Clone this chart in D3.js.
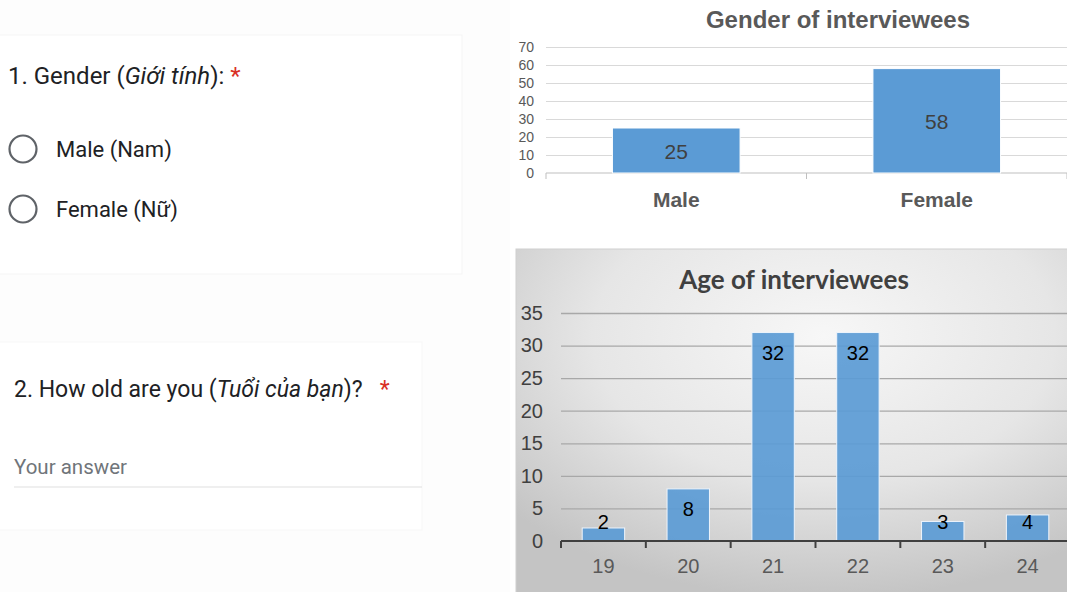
<!DOCTYPE html>
<html lang="en">
  <head>
    <meta charset="UTF-8" />
    <title>Gender and age of interviewees</title>
    <script src="https://d3js.org/d3.v7.min.js"></script>
    <style>
      body { margin: 0; background: #fff; }
      .form-text { font-family: Roboto, "Noto Sans", sans-serif; fill: #202124; }
      .axis-label { font-family: "Liberation Sans", Arial, sans-serif; }
    </style>
  </head>
  <body>
    <svg id="page" width="1067" height="592"></svg>
    <script>
      // chart data
      const genderCategories = ["Male", "Female"];
      const genderCounts = [25, 58];
      const genderTicks = [0, 10, 20, 30, 40, 50, 60, 70];

      const ageCategories = ["19", "20", "21", "22", "23", "24"];
      const ageCounts = [2, 8, 32, 32, 3, 4];
      const ageTicks = [0, 5, 10, 15, 20, 25, 30, 35];

      // form labels
      const genderOptions = ["Male (Nam)", "Female (Nữ)"];

      const svg = d3.select("#page");
      const defs = svg.append("defs");

      // ---------- left side: form screenshot ----------
      svg.append("rect").attr("x", 0).attr("y", 0).attr("width", 510).attr("height", 592).attr("fill", "#fdfdfd");
      svg.append("rect").attr("x", -1).attr("y", 35).attr("width", 463).attr("height", 239)
        .attr("fill", "#fff").attr("stroke", "#f5f5f5");
      svg.append("rect").attr("x", -1).attr("y", 342).attr("width", 423).attr("height", 188)
        .attr("fill", "#fff").attr("stroke", "#f7f7f7");

      const q1 = svg.append("text").attr("class", "form-text").attr("x", 8).attr("y", 84).style("font-size", "24px");
      q1.append("tspan").text("1. Gender (");
      q1.append("tspan").style("font-style", "italic").text("Giới tính");
      q1.append("tspan").text("): ");
      q1.append("tspan").attr("fill", "#d93025").text("*");

      genderOptions.forEach((opt, i) => {
        const cy = 149 + i * 60;
        svg.append("circle").attr("cx", 23).attr("cy", cy).attr("r", 13.5)
          .attr("fill", "none").attr("stroke", "#5f6368").attr("stroke-width", 2.2);
        svg.append("text").attr("class", "form-text").attr("x", 56).attr("y", cy)
          .attr("dy", "0.36em").style("font-size", "22px").text(opt);
      });

      const q2 = svg.append("text").attr("class", "form-text").attr("x", 14).attr("y", 397).style("font-size", "23px");
      q2.append("tspan").text("2. How old are you (");
      q2.append("tspan").style("font-style", "italic").text("Tuổi của bạn");
      q2.append("tspan").text(")?\u00a0\u00a0 ");
      q2.append("tspan").attr("fill", "#d93025").text("*");

      svg.append("text").attr("class", "form-text").attr("x", 14).attr("y", 474)
        .style("fill", "#70757a").style("font-size", "20.5px").text("Your answer");
      svg.append("line").attr("x1", 14).attr("x2", 422).attr("y1", 487).attr("y2", 487)
        .attr("stroke", "#e0e0e0").attr("stroke-width", 1.2);

      // ---------- top right: gender chart ----------
      const g1 = { left: 546, right: 1067, top: 47, bottom: 173 };
      const x1 = d3.scaleBand().domain(genderCategories).range([g1.left, g1.right]).paddingInner(0.51).paddingOuter(0.255);
      const y1 = d3.scaleLinear().domain([0, 70]).range([g1.bottom, g1.top]);

      svg.append("text").attr("x", 838).attr("y", 19).attr("dy", "0.36em")
        .attr("text-anchor", "middle").attr("class", "axis-label")
        .style("font-size", "24px").style("font-weight", "bold").attr("fill", "#595959")
        .text("Gender of interviewees");

      const yAxis1 = svg.append("g").attr("transform", `translate(${g1.left},0)`)
        .call(d3.axisLeft(y1).tickValues(genderTicks).tickSize(-(g1.right - g1.left)).tickPadding(12));
      yAxis1.select(".domain").remove();
      yAxis1.selectAll(".tick line").attr("stroke", "#d9d9d9");
      yAxis1.selectAll(".tick").filter(d => d === 0).select("line").remove();
      yAxis1.selectAll("text").attr("class", "axis-label").style("font-size", "14px").attr("fill", "#595959");

      // category axis
      const xAxis1 = svg.append("g");
      xAxis1.append("line").attr("x1", g1.left).attr("x2", g1.right).attr("y1", g1.bottom).attr("y2", g1.bottom)
        .attr("stroke", "#bfbfbf");
      const bounds1 = genderCategories.map(c => x1(c) - x1.step() * x1.paddingInner() / 2).concat([g1.right]);
      xAxis1.selectAll(".sep").data(bounds1).join("line")
        .attr("x1", d => d).attr("x2", d => d).attr("y1", g1.bottom).attr("y2", g1.bottom + 6)
        .attr("stroke", "#bfbfbf");
      xAxis1.selectAll(".cat").data(genderCategories).join("text")
        .attr("class", "axis-label").attr("x", d => x1(d) + x1.bandwidth() / 2).attr("y", 199).attr("dy", "0.36em")
        .attr("text-anchor", "middle").style("font-size", "21px").style("font-weight", "bold").attr("fill", "#595959")
        .text(d => d);

      svg.append("g").selectAll("rect").data(genderCounts).join("rect")
        .attr("x", (d, i) => x1(genderCategories[i])).attr("width", x1.bandwidth())
        .attr("y", d => y1(d)).attr("height", d => y1(0) - y1(d))
        .attr("fill", "#5b9bd5").attr("stroke", "#fff").attr("stroke-width", 1);

      svg.append("g").selectAll("text").data(genderCounts).join("text")
        .attr("class", "axis-label")
        .attr("x", (d, i) => x1(genderCategories[i]) + x1.bandwidth() / 2)
        .attr("y", d => (y1(d) + y1(0)) / 2 + 1).attr("dy", "0.36em")
        .attr("text-anchor", "middle").style("font-size", "21px").attr("fill", "#404040")
        .text(d => d);

      // ---------- bottom right: age chart ----------
      const panel = { x: 516, y: 249, w: 560, h: 350 };
      const grad = defs.append("radialGradient").attr("id", "panelGrad")
        .attr("cx", "0.55").attr("cy", "0.25").attr("r", "0.75");
      grad.append("stop").attr("offset", "0%").attr("stop-color", "#f7f7f7");
      grad.append("stop").attr("offset", "55%").attr("stop-color", "#e6e6e6");
      grad.append("stop").attr("offset", "100%").attr("stop-color", "#c4c4c4");
      svg.append("rect").attr("x", panel.x).attr("y", panel.y).attr("width", panel.w).attr("height", panel.h)
        .attr("fill", "url(#panelGrad)").attr("stroke", "#d0d0d0");

      const g2 = { left: 561, right: 1070, top: 313, bottom: 541 };
      const x2 = d3.scaleBand().domain(ageCategories).range([g2.left, g2.right]).paddingInner(0.5).paddingOuter(0.25);
      const y2 = d3.scaleLinear().domain([0, 35]).range([g2.bottom, g2.top]);

      svg.append("text").attr("x", 794).attr("y", 280).attr("dy", "0.36em")
        .attr("text-anchor", "middle")
        .style("font-family", "Lato, 'Open Sans', sans-serif")
        .style("font-size", "26px").style("font-weight", "bold").attr("fill", "#404040")
        .text("Age of interviewees");

      const yAxis2 = svg.append("g").attr("transform", `translate(${g2.left},0)`)
        .call(d3.axisLeft(y2).tickValues(ageTicks).tickSize(-(1067 - g2.left)).tickPadding(18));
      yAxis2.select(".domain").remove();
      yAxis2.selectAll(".tick line").attr("stroke", "#a8a8a8").attr("stroke-width", 1.3);
      yAxis2.selectAll(".tick").filter(d => d === 0).select("line").remove();
      yAxis2.selectAll("text").attr("class", "axis-label").style("font-size", "20px").attr("fill", "#404040");

      svg.append("g").selectAll("rect").data(ageCounts).join("rect")
        .attr("x", (d, i) => x2(ageCategories[i])).attr("width", x2.bandwidth())
        .attr("y", d => y2(d)).attr("height", d => y2(0) - y2(d))
        .attr("fill", "#5b9bd5").attr("fill-opacity", 0.92).attr("stroke", "#eef4fb").attr("stroke-width", 1);

      const xAxis2 = svg.append("g");
      xAxis2.append("line").attr("x1", g2.left).attr("x2", 1067).attr("y1", g2.bottom).attr("y2", g2.bottom)
        .attr("stroke", "#404040").attr("stroke-width", 2);
      const bounds2 = ageCategories.map(c => x2(c) - x2.step() * x2.paddingInner() / 2);
      xAxis2.selectAll(".sep").data(bounds2).join("line")
        .attr("x1", d => d).attr("x2", d => d).attr("y1", g2.bottom).attr("y2", g2.bottom + 7)
        .attr("stroke", "#404040").attr("stroke-width", 2);
      xAxis2.selectAll(".cat").data(ageCategories).join("text")
        .attr("class", "axis-label").attr("x", d => x2(d) + x2.bandwidth() / 2).attr("y", 566).attr("dy", "0.36em")
        .attr("text-anchor", "middle").style("font-size", "20px").attr("fill", "#595959")
        .text(d => d);

      // labels sit just inside the bar end, but never below the base
      svg.append("g").selectAll("text").data(ageCounts).join("text")
        .attr("class", "axis-label")
        .attr("x", (d, i) => x2(ageCategories[i]) + x2.bandwidth() / 2)
        .attr("y", d => Math.min(y2(d) + 20, y2(0) - 19)).attr("dy", "0.36em")
        .attr("text-anchor", "middle").style("font-size", "20px").attr("fill", "#000")
        .text(d => d);
    </script>
  </body>
</html>
